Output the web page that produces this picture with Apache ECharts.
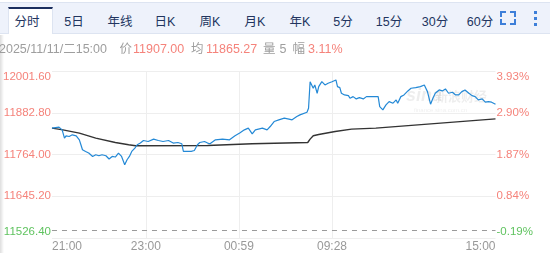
<!DOCTYPE html>
<html>
<head>
<meta charset="utf-8">
<script src="https://cdn.jsdelivr.net/npm/echarts@6/dist/echarts.min.js"></script>
<style>
html,body{margin:0;padding:0;background:#fff;width:550px;height:253px;overflow:hidden;
  font-family:"Liberation Sans",Arial,"Noto Sans CJK SC",sans-serif;}
#chart{position:absolute;left:0;top:0;width:550px;height:253px;}
#bar{position:absolute;left:0;top:2px;width:550px;height:30px;background:#eef2fb;
  border-top:1px solid #dde4f1;border-bottom:1px solid #dde4f1;z-index:2;}
#active{position:absolute;left:8px;top:7px;width:43px;height:25px;background:#fff;
  border-top:2px solid #1c2f5e;border-left:1px solid #dde4f1;border-right:1px solid #dde4f1;z-index:3;}
.tab{position:absolute;top:12px;height:20px;line-height:20px;font-size:12.5px;color:#22355f;
  transform:translateX(-50%);white-space:nowrap;z-index:4;}
.info{position:absolute;top:40px;height:19px;line-height:19px;font-size:12.5px;white-space:nowrap;z-index:4;}
.g{color:#9e9e9e;} .r{color:#f5837b;}
.corner{position:absolute;width:4px;height:4px;border-color:#3d7fd9;border-style:solid;border-width:0;z-index:4;}
.dot{position:absolute;left:533.5px;width:3.5px;height:3.3px;background:#3d7fd9;z-index:4;}
#shade{position:absolute;left:0;top:35px;width:4px;height:218px;
  background:linear-gradient(to right,rgba(0,0,0,0.13),rgba(0,0,0,0));z-index:4;}
</style>
</head>
<body>
<div id="chart"></div>
<div id="bar"></div>
<div id="active"></div>
<div id="tabs"></div>
<div class="corner" style="left:500px;top:11px;border-top-width:2.3px;border-left-width:2.3px;"></div>
<div class="corner" style="left:509.5px;top:11px;border-top-width:2.3px;border-right-width:2.3px;"></div>
<div class="corner" style="left:500px;top:18.5px;border-bottom-width:2.3px;border-left-width:2.3px;"></div>
<div class="corner" style="left:509.5px;top:18.5px;border-bottom-width:2.3px;border-right-width:2.3px;"></div>
<div class="dot" style="top:11px"></div>
<div class="dot" style="top:16.8px"></div>
<div class="dot" style="top:22.5px"></div>
<div id="shade"></div>
<div class="info g" style="left:-1px">2025/11/11/二15:00</div>
<div class="info g" style="left:119.5px">价</div>
<div class="info r" style="left:133px">11907.00</div>
<div class="info g" style="left:191px">均</div>
<div class="info r" style="left:206px">11865.27</div>
<div class="info g" style="left:263px">量</div>
<div class="info g" style="left:279.5px">5</div>
<div class="info g" style="left:292.5px">幅</div>
<div class="info r" style="left:308px">3.11%</div>
<script>
// ---- tabs ----
const tabNames = ['分时','5日','年线','日K','周K','月K','年K','5分','15分','30分','60分'];
const tabCenters = [27, 74, 120, 165, 210, 255, 300, 343, 389, 435, 480];
const tabsEl = document.getElementById('tabs');
tabNames.forEach((t, i) => {
  const d = document.createElement('div');
  d.className = 'tab';
  d.style.left = tabCenters[i] + 'px';
  d.textContent = t;
  tabsEl.appendChild(d);
});

// ---- data ----
const slotCount = 568; // minute slots across the trading day (21:00 -> 15:00)
const timeTickIndex = [0, 120, 239, 358, 567];
const timeTickLabels = ['21:00', '23:00', '00:59', '09:28', '15:00'];

const prevClose = 11548;
const priceMin = 11526.4;
const priceMax = 12001.6;
const priceStep = 118.8;

const priceIndex = [0,9,13,16,18,22,26,31,35,37,39,43,47,52,54,56,60,64,69,73,77,81,85,89,93,96,99,102,106,109,113,117,123,130,136,142,149,155,161,166,168,172,178,182,186,189,195,199,202,209,218,227,234,240,246,251,256,260,269,275,279,284,290,297,303,307,313,317,326,328,330,332,334,336,339,341,345,349,353,358,360,363,365,368,370,374,379,381,385,389,393,398,402,417,419,423,427,431,436,440,442,446,450,455,459,465,471,476,480,484,487,490,495,499,503,507,512,516,520,524,528,533,537,541,545,550,554,558,562,567];
const priceValues = [11839.0,11841.9,11834.2,11810.7,11817.2,11815.2,11820.0,11817.2,11805.8,11791.7,11777.5,11772.7,11768.1,11758.5,11753.9,11763.3,11760.5,11763.3,11760.5,11751.1,11758.5,11756.8,11768.1,11758.5,11734.9,11749.1,11758.5,11772.7,11782.3,11791.7,11796.5,11803.9,11801.0,11807.8,11803.9,11801.0,11803.9,11796.5,11798.2,11794.5,11772.7,11772.7,11772.7,11775.5,11791.7,11798.2,11801.0,11796.5,11794.5,11805.8,11807.8,11805.8,11817.2,11824.9,11834.2,11839.0,11822.9,11834.2,11839.0,11834.2,11843.6,11857.8,11862.6,11867.4,11864.6,11862.6,11871.9,11876.8,11884.4,11895.8,11971.2,11966.7,11952.5,11961.9,11938.3,11957.1,11971.2,11961.9,11966.7,11971.2,11976.1,11976.1,11957.1,11954.2,11938.3,11933.5,11931.5,11924.1,11928.7,11922.2,11925.9,11922.2,11928.7,11928.7,11900.3,11891.0,11905.1,11914.5,11910.0,11919.3,11910.0,11928.7,11933.5,11944.9,11952.5,11954.2,11957.1,11961.9,11942.9,11907.1,11924.1,11938.3,11947.7,11944.9,11950.5,11938.3,11941.2,11933.5,11933.5,11942.9,11947.7,11938.3,11931.5,11928.7,11919.3,11922.2,11912.8,11914.5,11912.8,11907.0];

const avgIndex = [0,14,35,56,81,98,107,199,256,327,330,334,341,362,383,414,567];
const avgValues = [11839.0,11834.2,11824.9,11810.7,11798.2,11791.7,11788.8,11789.7,11794.5,11798.2,11807.8,11817.2,11820.9,11829.4,11836.2,11839.0,11865.27];

// ---- chart ----
const slots = Array.from({length: slotCount}, (_, i) => String(i));
const red = '#f5837b', green = '#5fc35f';
const labelColor = v => (v < prevClose ? green : red);
const fam = '"Liberation Sans", Arial, sans-serif';

const chart = echarts.init(document.getElementById('chart'), null, {renderer: 'canvas'});
chart.setOption({
  animation: false,
  backgroundColor: 'transparent',
  grid: {left: 47.5, right: 54.5, top: 71, bottom: 14.5},
  graphic: [
    {type: 'text', left: 406, top: 87, z: 0, style: {text: 'sina', font: 'italic bold 18px sans-serif', fill: 'rgba(0,0,0,0.07)'}},
    {type: 'text', left: 435, top: 90, z: 0, style: {text: '新浪财经', font: 'bold 13px "Noto Sans CJK SC"', fill: 'rgba(0,0,0,0.07)'}},
    {type: 'text', left: 414, top: 107, z: 0, style: {text: 'finance.sina.com.cn', font: '6px sans-serif', fill: 'rgba(0,0,0,0.07)'}}
  ],
  xAxis: {
    type: 'category',
    boundaryGap: false,
    data: slots,
    axisLine: {show: false},
    axisTick: {show: false},
    axisLabel: {
      interval: (i) => timeTickIndex.includes(i),
      formatter: (v, i) => {
        const k = timeTickIndex.indexOf(Number(v));
        return k >= 0 ? timeTickLabels[k] : '';
      },
      color: '#999', fontSize: 12, fontFamily: fam, margin: 3,
      alignMinLabel: 'left', alignMaxLabel: 'right'
    },
    splitLine: {
      show: true,
      interval: (i) => i > 0 && i < slotCount - 1 && timeTickIndex.includes(i),
      lineStyle: {color: '#eeeeee', width: 1}
    }
  },
  yAxis: [
    {
      type: 'value', position: 'left',
      min: priceMin, max: priceMax, interval: priceStep,
      axisLine: {show: false}, axisTick: {show: false},
      splitLine: {show: true, lineStyle: {color: '#eeeeee', width: 1}},
      axisLabel: {
        formatter: v => v.toFixed(2),
        color: labelColor, fontSize: 11.5, fontFamily: fam, margin: 1,
        verticalAlignMinLabel: 'bottom', verticalAlignMaxLabel: 'top'
      }
    },
    {
      type: 'value', position: 'right',
      min: priceMin, max: priceMax, interval: priceStep,
      axisLine: {show: false}, axisTick: {show: false},
      splitLine: {show: false},
      axisLabel: {
        formatter: v => ((v / prevClose - 1) * 100).toFixed(2) + '%',
        color: labelColor, fontSize: 11.5, fontFamily: fam, margin: 1,
        verticalAlignMinLabel: 'bottom', verticalAlignMaxLabel: 'top'
      }
    }
  ],
  series: [
    {
      type: 'line', name: '价',
      data: priceIndex.map((x, i) => [x, priceValues[i]]),
      symbol: 'none', z: 3,
      lineStyle: {color: '#2489d6', width: 1.2},
      markLine: {
        silent: true, symbol: ['none', 'none'],
        label: {show: false},
        lineStyle: {color: '#9a9a9a', type: [5, 5], width: 1},
        data: [{yAxis: prevClose}]
      }
    },
    {
      type: 'line', name: '均',
      data: avgIndex.map((x, i) => [x, avgValues[i]]),
      symbol: 'none', z: 2,
      lineStyle: {color: '#333333', width: 1.4}
    }
  ]
});
</script>
</body>
</html>
